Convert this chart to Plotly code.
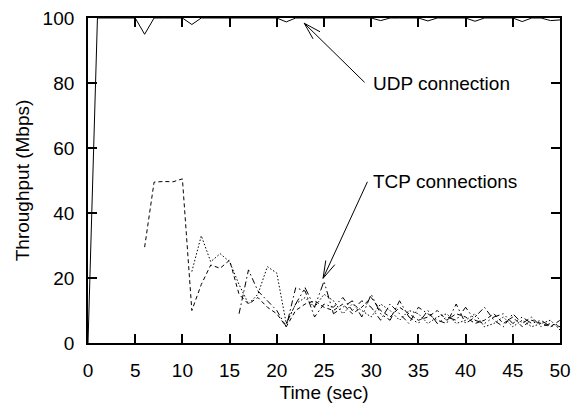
import math
import plotly.graph_objects as go

# ---------------- data ----------------
udp_t = list(range(0, 51))
udp_y = [0, 100, 100, 100, 100, 100, 95, 100, 100, 100, 100, 98, 100, 100, 100, 100,
         100, 100, 100, 100, 100, 98.8, 100, 100, 100, 100, 100, 100, 100, 100, 100,
         99.2, 100, 100, 100, 100, 99.1, 100, 100, 100, 100, 99, 100, 100, 100, 100,
         98.9, 100, 100, 99.2, 99.4]

tcp1_t = list(range(6, 51))
tcp1_y = [29.5, 49.5, 49.7, 49.6, 50.5, 10, 18, 24, 23, 25.5, 15, 12, 14, 11, 9, 5,
          10, 12, 13, 11, 10, 12, 9, 11, 14, 10, 8, 11, 9, 7, 8, 10, 7, 9, 8, 6, 7,
          9, 6, 8, 5, 7, 6, 5, 7]

tcp2_t = list(range(11, 51))
tcp2_y = [22, 33, 25, 27.5, 25, 18, 12, 15, 23.5, 21.5, 6, 12, 14, 11, 15, 13, 9,
          12, 10, 8, 12, 10, 7, 10, 9, 6, 8, 9, 6, 7, 9, 5, 6, 8, 5, 7, 5, 6, 7, 4]

tcp3_t = list(range(16, 51))
tcp3_y = [9, 22.5, 16, 13, 10, 5, 17, 16, 8, 12, 11, 14, 10, 13, 11, 7, 12, 9, 6,
          11, 9, 7, 6, 12, 6, 8, 11, 7, 5, 9, 6, 8, 5, 6, 5]

tcp4_t = list(range(21, 51))
tcp4_y = [6, 12, 17, 11, 19, 9, 11, 13, 8, 15, 9, 7, 13, 8, 6, 10, 6, 8, 7, 11, 7,
          6, 8, 9, 6, 8, 6, 7, 5, 6]

x_ticks = list(range(0, 51, 5))
y_ticks = list(range(0, 101, 20))

udp_label = "UDP connection"
tcp_label = "TCP connections"

# ---------------- layout geometry ----------------
W, H = 572, 403
ML, MR, MT, MB = 88, 12, 18, 60
XR, YR = (0, 50), (0, 100)
px_per_x = (W - ML - MR) / (XR[1] - XR[0])
px_per_y = (H - MT - MB) / (YR[1] - YR[0])

FONT = "Liberation Sans, Arial, sans-serif"
FS = 19

fig = go.Figure()

fig.add_trace(go.Scatter(x=udp_t, y=udp_y, mode="lines",
                         line=dict(color="black", width=1), showlegend=False))
styles = [
    (tcp1_t, tcp1_y, "4px,3px"),
    (tcp2_t, tcp2_y, "1.5px,2px"),
    (tcp3_t, tcp3_y, "6px,3px,1.5px,3px"),
    (tcp4_t, tcp4_y, "8px,3px,1.5px,3px,1.5px,3px"),
]
for t, y, d in styles:
    fig.add_trace(go.Scatter(x=t, y=y, mode="lines",
                             line=dict(color="black", width=1, dash=d),
                             showlegend=False))

shapes = []


def arrow(tail, tip, head_len=18, half_angle=16):
    shapes.append(dict(type="line", xref="x", yref="y", x0=tail[0], y0=tail[1],
                       x1=tip[0], y1=tip[1], line=dict(color="black", width=1)))
    dxp = (tail[0] - tip[0]) * px_per_x
    dyp = -(tail[1] - tip[1]) * px_per_y
    ang = math.atan2(dyp, dxp)
    for s in (-1, 1):
        a = ang + s * math.radians(half_angle)
        bx = tip[0] + head_len * math.cos(a) / px_per_x
        by = tip[1] - head_len * math.sin(a) / px_per_y
        shapes.append(dict(type="line", xref="x", yref="y", x0=tip[0], y0=tip[1],
                           x1=bx, y1=by, line=dict(color="black", width=1)))


arrow((29.3, 80.2), (22.9, 98.4))
arrow((29.6, 49.6), (24.9, 19.9))

fig.add_annotation(x=30, y=80, text=udp_label, showarrow=False, xanchor="left",
                   yanchor="middle", font=dict(family=FONT, size=FS, color="black"))
fig.add_annotation(x=30, y=49.6, text=tcp_label, showarrow=False, xanchor="left",
                   yanchor="middle", font=dict(family=FONT, size=FS, color="black"))

axis_common = dict(showline=True, linecolor="black", linewidth=1.8, mirror="ticks",
                   ticks="inside", ticklen=9, tickwidth=1.5, tickcolor="black",
                   showgrid=False, zeroline=False,
                   tickfont=dict(family=FONT, size=FS, color="black"))

fig.update_xaxes(range=list(XR), tickvals=x_ticks, ticktext=[str(v) for v in x_ticks],
                 title=dict(text="Time (sec)", font=dict(family=FONT, size=FS, color="black"),
                            standoff=6),
                 ticklabelstandoff=9, **axis_common)
fig.update_yaxes(range=list(YR), tickvals=y_ticks, ticktext=[str(v) for v in y_ticks],
                 title=dict(text="Throughput (Mbps)", font=dict(family=FONT, size=FS, color="black"),
                            standoff=8),
                 ticklabelstandoff=8, **axis_common)

fig.update_layout(width=W, height=H, margin=dict(l=ML, r=MR, t=MT, b=MB, autoexpand=False),
                  paper_bgcolor="white", plot_bgcolor="white", shapes=shapes,
                  font=dict(family=FONT, size=FS, color="black"))

fig.write_html("out.html", config={"displayModeBar": False},
               post_script="document.body.style.margin='0';document.body.style.padding='0';")
